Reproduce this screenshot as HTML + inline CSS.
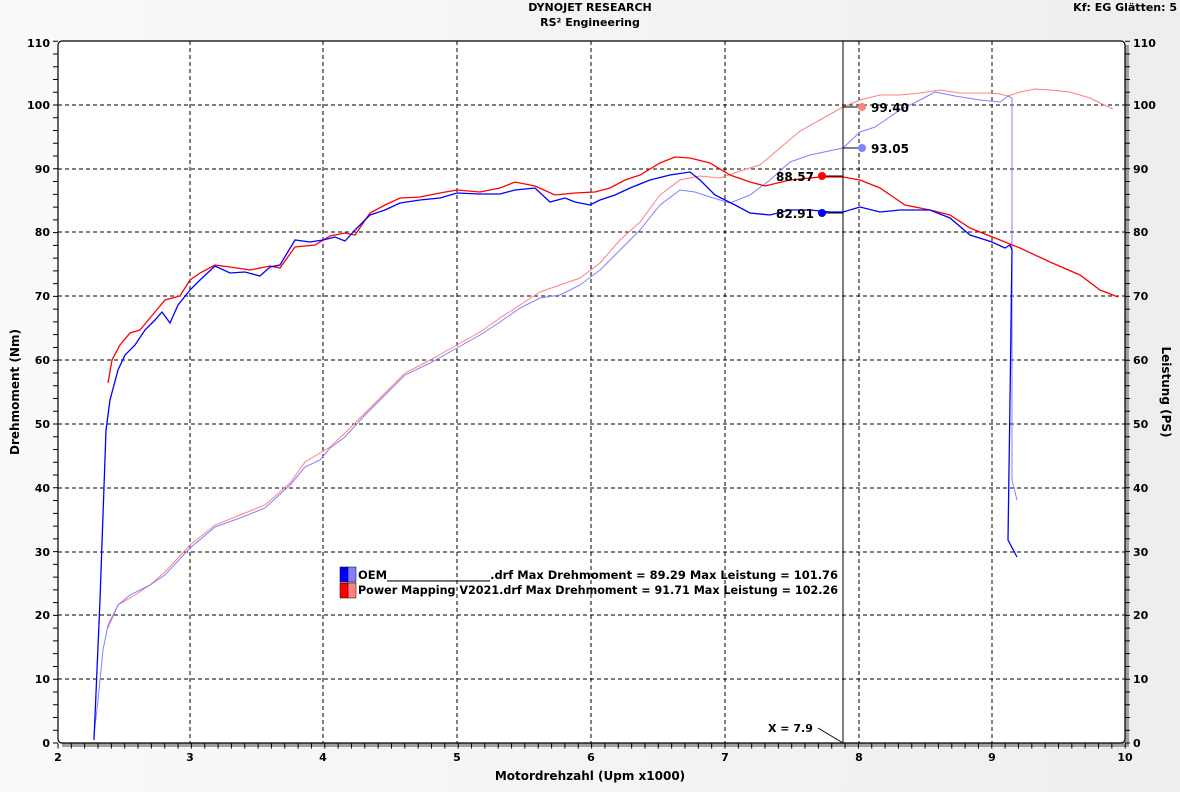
<!DOCTYPE html>
<html><head><meta charset="utf-8"><style>
html,body{margin:0;padding:0;}
body{width:1180px;height:787px;overflow:hidden;background:linear-gradient(90deg,#fafafa,#eeeeee);font-family:"Liberation Sans",Verdana,sans-serif;}
svg text{font-family:"DejaVu Sans","Liberation Sans",sans-serif;font-weight:bold;fill:#000;}
</style></head><body>
<svg width="1180" height="787" xmlns="http://www.w3.org/2000/svg">
<text x="590" y="11" font-size="11" text-anchor="middle">DYNOJET RESEARCH</text>
<text x="590" y="26" font-size="11" text-anchor="middle">RS² Engineering</text>
<text x="1177" y="11" font-size="11" text-anchor="end">Kf: EG  Glätten: 5</text>
<rect x="62" y="45" width="1067" height="702" fill="#a0a0a0"/>
<rect x="58" y="41" width="1067" height="702" rx="4" fill="#fff" stroke="#000" stroke-width="1.2"/>
<g stroke="#000" stroke-width="1" stroke-dasharray="4,3">
<line x1="190" y1="41" x2="190" y2="743"/><line x1="323" y1="41" x2="323" y2="743"/><line x1="457" y1="41" x2="457" y2="743"/><line x1="591" y1="41" x2="591" y2="743"/><line x1="725" y1="41" x2="725" y2="743"/><line x1="859" y1="41" x2="859" y2="743"/><line x1="992" y1="41" x2="992" y2="743"/>
<line x1="58" y1="105" x2="1125" y2="105"/><line x1="58" y1="169" x2="1125" y2="169"/><line x1="58" y1="232" x2="1125" y2="232"/><line x1="58" y1="296" x2="1125" y2="296"/><line x1="58" y1="360" x2="1125" y2="360"/><line x1="58" y1="424" x2="1125" y2="424"/><line x1="58" y1="488" x2="1125" y2="488"/><line x1="58" y1="552" x2="1125" y2="552"/><line x1="58" y1="615" x2="1125" y2="615"/><line x1="58" y1="679" x2="1125" y2="679"/>
</g>
<g stroke="#000">
<line x1="55.5" y1="743.5" x2="55.5" y2="40" stroke-width="5" stroke-dasharray="1,11.76"/>
<line x1="1127.5" y1="743.5" x2="1127.5" y2="40" stroke-width="5" stroke-dasharray="1,11.76"/>
<line x1="57.5" y1="746" x2="1127" y2="746" stroke-width="5" stroke-dasharray="1,12.34"/>
</g>
<g font-size="11" text-anchor="end">
<text x="50" y="47">110</text><text x="50" y="109">100</text><text x="50" y="173">90</text><text x="50" y="236">80</text><text x="50" y="300">70</text><text x="50" y="364">60</text><text x="50" y="428">50</text><text x="50" y="492">40</text><text x="50" y="556">30</text><text x="50" y="619">20</text><text x="50" y="683">10</text><text x="50" y="747">0</text>
</g>
<g font-size="11">
<text x="1133" y="47">110</text><text x="1133" y="109">100</text><text x="1133" y="173">90</text><text x="1133" y="236">80</text><text x="1133" y="300">70</text><text x="1133" y="364">60</text><text x="1133" y="428">50</text><text x="1133" y="492">40</text><text x="1133" y="556">30</text><text x="1133" y="619">20</text><text x="1133" y="683">10</text><text x="1133" y="747">0</text>
</g>
<g font-size="11" text-anchor="middle">
<text x="58" y="761">2</text><text x="190" y="761">3</text><text x="323" y="761">4</text><text x="457" y="761">5</text><text x="591" y="761">6</text><text x="725" y="761">7</text><text x="859" y="761">8</text><text x="992" y="761">9</text><text x="1125" y="761">10</text>
</g>
<text x="590" y="780" font-size="12" text-anchor="middle">Motordrehzahl (Upm x1000)</text>
<text transform="translate(19,392) rotate(-90)" font-size="12" text-anchor="middle">Drehmoment (Nm)</text>
<text transform="translate(1162,392) rotate(90)" font-size="12" text-anchor="middle">Leistung (PS)</text>
<g fill="none" stroke-width="1">
<polyline stroke="#ff8080" points="108,628 118,605 135,595 150,585 165,572 190,545 215,525 240,515 265,505 290,483 305,462 330,447 345,433 365,413 385,393 405,373 430,360 457,345 480,332 500,318 520,305 540,292 560,285 580,278 600,263 620,240 640,222 660,195 680,180 700,176 720,178 740,171 760,165 780,148 800,131 820,120 843,107 860,100 880,95 900,95 920,93 940,90 960,93 990,93 1000,94 1008,96 1020,92 1035,89 1050,90 1070,92 1090,98 1100,103 1113,109"/>
<polyline stroke="#8080ff" points="94,735 98,700 103,650 108,625 118,605 130,595 150,585 165,575 190,548 215,527 240,518 265,508 290,485 305,467 320,460 330,448 345,437 365,415 385,395 405,375 430,363 457,348 480,335 500,322 520,308 540,298 560,295 580,285 600,270 620,250 640,230 660,205 680,190 695,192 710,197 730,203 750,195 770,180 790,162 810,155 843,148 860,132 875,127 900,110 920,100 935,92 955,96 980,100 1000,102 1008,96 1012,98 1012,480 1017,500"/>
<polyline stroke="#ff0000" stroke-width="1.3" points="108,383 112,360 120,345 130,333 140,330 150,318 165,300 180,296 190,280 200,273 215,265 230,267 250,270 270,266 280,268 295,247 315,245 330,236 345,233 355,235 370,213 385,205 400,198 420,197 440,193 457,190 480,192 500,188 515,182 535,186 555,195 575,193 595,192 610,188 625,180 640,175 660,163 675,157 690,158 710,163 730,175 750,182 765,186 790,180 820,177 843,177 860,180 880,188 905,205 930,210 950,215 970,228 1000,240 1020,248 1050,262 1080,275 1100,290 1118,297"/>
<polyline stroke="#0000ff" stroke-width="1.3" points="94,740 100,600 106,430 110,400 118,370 125,355 135,345 145,330 155,320 162,312 170,323 178,305 190,290 200,280 215,266 230,273 245,272 260,276 270,267 280,265 295,240 310,242 323,240 335,237 345,241 355,230 370,215 385,210 400,203 420,200 440,198 457,193 480,194 500,194 515,190 535,188 550,202 565,198 575,202 590,205 600,200 615,195 630,188 650,180 670,175 690,172 700,180 715,195 735,205 750,213 770,215 790,210 810,210 830,212 843,212 860,207 880,212 900,210 930,210 950,218 970,235 992,242 1005,248 1010,245 1012,250 1010,400 1008,540 1017,557"/>
</g>
<line x1="843" y1="41" x2="843" y2="743" stroke="#000"/>
<line x1="818" y1="728" x2="843" y2="743" stroke="#000"/>
<text x="768" y="732" font-size="11">X = 7.9</text>
<g stroke="#000"><line x1="843" y1="107" x2="862" y2="107"/><line x1="843" y1="148" x2="862" y2="148"/><line x1="822" y1="176" x2="843" y2="176"/><line x1="822" y1="213" x2="843" y2="213"/></g>
<circle cx="862" cy="107" r="4" fill="#ff8080"/><circle cx="862" cy="148" r="4" fill="#8080ff"/><circle cx="822" cy="176" r="4" fill="#ff0000"/><circle cx="822" cy="213" r="4" fill="#0000ff"/>
<g font-size="12"><text x="871" y="112">99.40</text><text x="871" y="153">93.05</text><text x="776" y="181">88.57</text><text x="776" y="218">82.91</text></g>
<rect x="340" y="567" width="8" height="15" fill="#0000ff" stroke="#000" stroke-width="0.5"/><rect x="348" y="567" width="8" height="15" fill="#8080ff" stroke="#000" stroke-width="0.5"/>
<rect x="340" y="583" width="8" height="15" fill="#ff0000" stroke="#000" stroke-width="0.5"/><rect x="348" y="583" width="8" height="15" fill="#ff8080" stroke="#000" stroke-width="0.5"/>
<g font-size="11.2"><text x="358" y="579" textLength="480" lengthAdjust="spacingAndGlyphs">OEM__________________.drf Max Drehmoment = 89.29 Max Leistung = 101.76</text>
<text x="358" y="594" textLength="480" lengthAdjust="spacingAndGlyphs">Power Mapping V2021.drf Max Drehmoment = 91.71 Max Leistung = 102.26</text></g>
</svg>
</body></html>
